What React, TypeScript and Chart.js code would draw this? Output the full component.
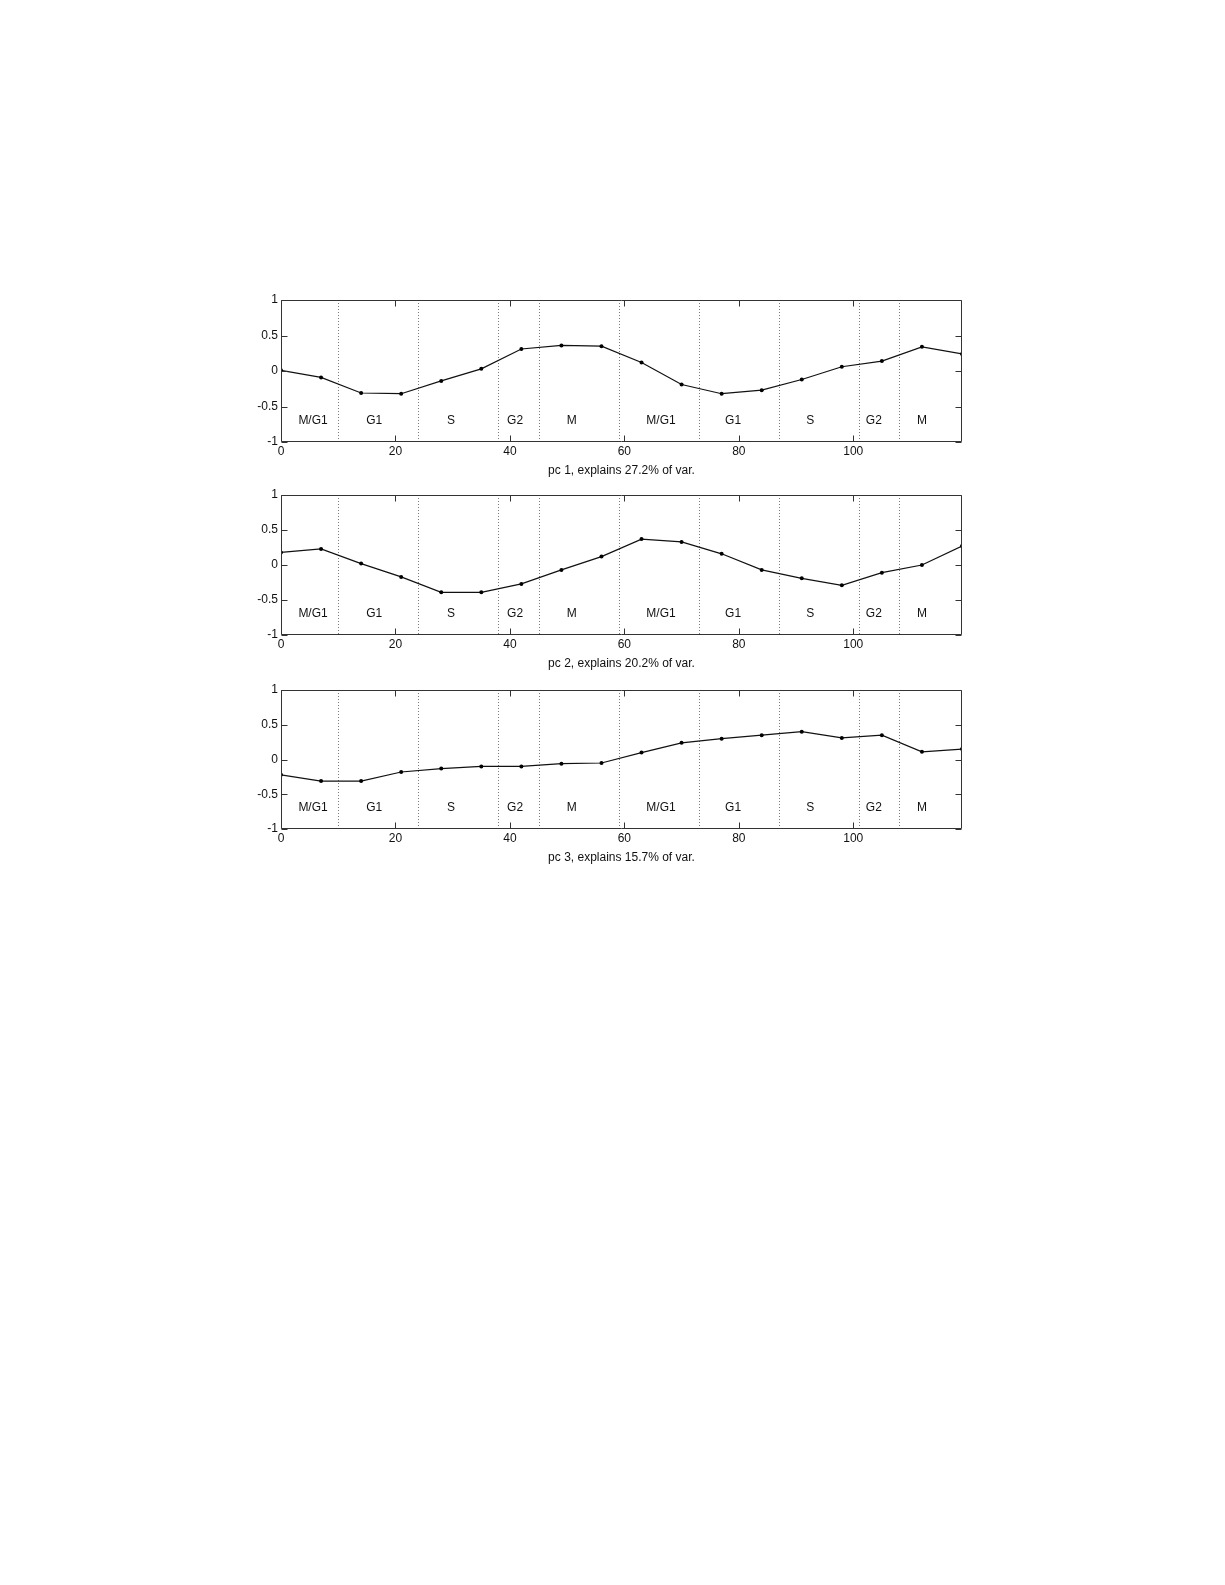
import React, { useEffect, useRef } from "react";
import { Chart, registerables } from "chart.js";

Chart.register(...registerables);

// ---- data ----
const timePoints = [0, 7, 14, 21, 28, 35, 42, 49, 56, 63, 70, 77, 84, 91, 98, 105, 112, 119];
const pc1Values = [0.01, -0.09, -0.31, -0.32, -0.14, 0.03, 0.31, 0.36, 0.35, 0.12, -0.19, -0.32, -0.27, -0.12, 0.06, 0.14, 0.34, 0.24];
const pc2Values = [0.18, 0.23, 0.02, -0.17, -0.39, -0.39, -0.27, -0.07, 0.12, 0.37, 0.33, 0.16, -0.07, -0.19, -0.29, -0.11, 0.0, 0.27];
const pc3Values = [-0.22, -0.31, -0.31, -0.18, -0.13, -0.1, -0.1, -0.06, -0.05, 0.1, 0.24, 0.3, 0.35, 0.4, 0.31, 0.35, 0.11, 0.15];
const pcTitles = [
  "pc 1, explains 27.2% of var.",
  "pc 2, explains 20.2% of var.",
  "pc 3, explains 15.7% of var.",
];
const phaseBoundaries = [10, 24, 38, 45, 59, 73, 87, 101, 108];
const phaseLabels = ["M/G1", "G1", "S", "G2", "M", "M/G1", "G1", "S", "G2", "M"];
const phaseLabelX = [5.6, 16.3, 29.7, 40.9, 50.8, 66.4, 79, 92.5, 103.6, 112];
const phaseLabelY = -0.7;
const xTicks = [0, 20, 40, 60, 80, 100];
const yTicks = [-1, -0.5, 0, 0.5, 1];
const xMin = 0;
const xMax = 119;

const seriesList = [pc1Values, pc2Values, pc3Values];

// ---- layout ----
const PAGE_W = 1225;
const PLOT_LEFT = 281;
const PLOT_RIGHT = 962;
const PAD_TOP = 12;
const X_AXIS_H = 36;
const panels = [
  { top: 300, bottom: 442 },
  { top: 495, bottom: 635 },
  { top: 690, bottom: 829 },
];
const FONT = '"Liberation Sans", Arial, Helvetica, sans-serif';
const FONT_SIZE = 12;

const framePlugin = {
  id: "matlabFrame",
  beforeDatasetsDraw(chart: any) {
    const { ctx, chartArea: a, scales } = chart;
    const x = scales.x;
    const y = scales.y;
    ctx.save();
    ctx.strokeStyle = "#7a7a7a";
    ctx.lineWidth = 1;
    ctx.setLineDash([1, 2]);
    for (const b of phaseBoundaries) {
      const px = Math.round(x.getPixelForValue(b)) + 0.5;
      ctx.beginPath();
      ctx.moveTo(px, a.top);
      ctx.lineTo(px, a.bottom);
      ctx.stroke();
    }
    ctx.setLineDash([]);
    ctx.fillStyle = "#111";
    ctx.font = `${FONT_SIZE}px ${FONT}`;
    ctx.textAlign = "center";
    ctx.textBaseline = "middle";
    phaseLabels.forEach((t, i) => {
      ctx.fillText(t, x.getPixelForValue(phaseLabelX[i]), y.getPixelForValue(phaseLabelY));
    });
    ctx.restore();
  },
  afterDraw(chart: any) {
    const { ctx, chartArea: a, scales } = chart;
    const x = scales.x;
    const y = scales.y;
    const L = Math.round(a.left) + 0.5;
    const R = Math.round(a.right) - 0.5;
    const T = Math.round(a.top) + 0.5;
    const B = Math.round(a.bottom) - 0.5;
    const tl = 6;
    ctx.save();
    ctx.strokeStyle = "#333";
    ctx.lineWidth = 1;
    ctx.beginPath();
    ctx.rect(L, T, R - L, B - T);
    ctx.stroke();
    ctx.beginPath();
    for (const v of xTicks) {
      const px = Math.round(x.getPixelForValue(v)) + 0.5;
      ctx.moveTo(px, B);
      ctx.lineTo(px, B - tl);
      ctx.moveTo(px, T);
      ctx.lineTo(px, T + tl);
    }
    for (const v of yTicks) {
      const py = Math.round(y.getPixelForValue(v)) + 0.5;
      ctx.moveTo(L, py);
      ctx.lineTo(L + tl, py);
      ctx.moveTo(R, py);
      ctx.lineTo(R - tl, py);
    }
    ctx.stroke();
    ctx.restore();
  },
};

function Panel({ index }: { index: number }) {
  const ref = useRef<HTMLCanvasElement | null>(null);
  const p = panels[index];
  const height = p.bottom - p.top + PAD_TOP + X_AXIS_H;

  useEffect(() => {
    if (!ref.current) return;
    const values = seriesList[index];
    const chart = new Chart(ref.current, {
      type: "line",
      data: {
        datasets: [
          {
            data: timePoints.map((t, i) => ({ x: t, y: values[i] })),
            borderColor: "#111",
            borderWidth: 1.2,
            backgroundColor: "#000",
            pointRadius: 2,
            pointBorderWidth: 0,
            pointBackgroundColor: "#000",
            tension: 0,
            fill: false,
          },
        ],
      },
      options: {
        animation: false,
        responsive: true,
        maintainAspectRatio: false,
        events: [],
        layout: { padding: { left: 0, right: PAGE_W - PLOT_RIGHT, top: PAD_TOP, bottom: 0 } },
        plugins: { legend: { display: false }, tooltip: { enabled: false }, title: { display: false } },
        scales: {
          x: {
            type: "linear",
            min: xMin,
            max: xMax,
            grid: { display: false, drawTicks: false },
            border: { display: false },
            afterBuildTicks: (s: any) => {
              s.ticks = xTicks.map((v) => ({ value: v }));
            },
            afterFit: (s: any) => {
              s.height = X_AXIS_H;
            },
            ticks: {
              color: "#111",
              font: { family: FONT, size: FONT_SIZE },
              padding: 2,
              maxRotation: 0,
              autoSkip: false,
              callback: (v: any) => String(v),
            },
            title: {
              display: true,
              text: pcTitles[index],
              color: "#111",
              font: { family: FONT, size: FONT_SIZE },
              padding: { top: 0, bottom: 0 },
            },
          },
          y: {
            type: "linear",
            min: -1,
            max: 1,
            grid: { display: false, drawTicks: false },
            border: { display: false },
            afterBuildTicks: (s: any) => {
              s.ticks = yTicks.map((v) => ({ value: v }));
            },
            afterFit: (s: any) => {
              s.width = PLOT_LEFT;
            },
            ticks: {
              color: "#111",
              font: { family: FONT, size: FONT_SIZE },
              padding: 3,
              autoSkip: false,
              callback: (v: any) => String(v),
            },
          },
        },
      },
      plugins: [framePlugin],
    });
    return () => chart.destroy();
  }, [index]);

  return (
    <div
      style={{
        position: "absolute",
        left: 0,
        top: p.top - PAD_TOP,
        width: PAGE_W,
        height,
      }}
    >
      <canvas ref={ref} />
    </div>
  );
}

export default function App() {
  return (
    <div style={{ position: "absolute", left: 0, top: 0, width: 1200, height: 1500, background: "#fff" }}>
      <Panel index={0} />
      <Panel index={1} />
      <Panel index={2} />
    </div>
  );
}
